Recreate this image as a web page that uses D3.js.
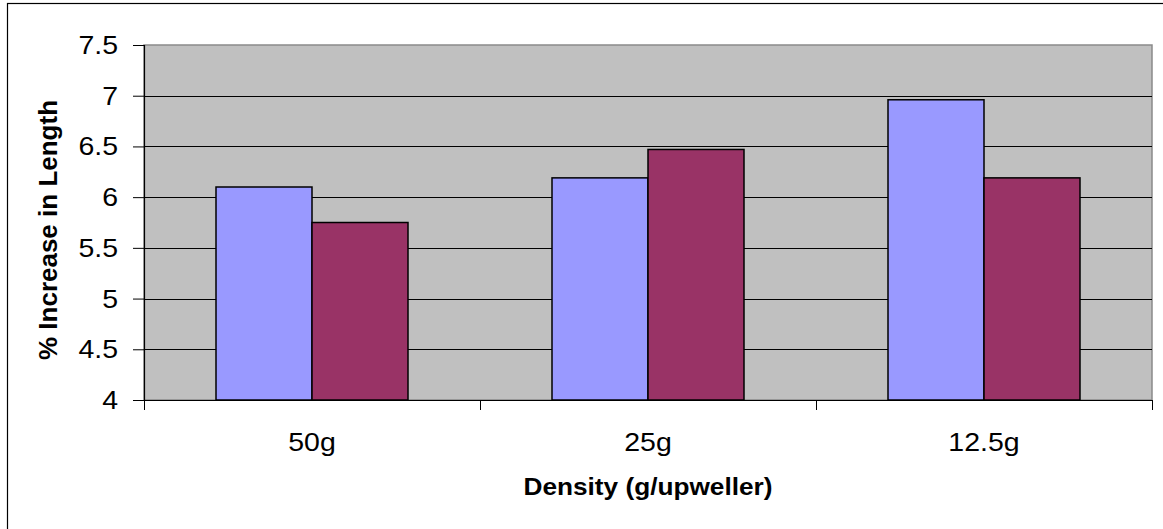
<!DOCTYPE html>
<html><head><meta charset="utf-8">
<script src="https://cdn.jsdelivr.net/npm/d3@7"></script>
<style>
html,body{margin:0;padding:0;background:#fff;}
svg{display:block;font-family:"Liberation Sans",Arial,sans-serif;}
</style></head>
<body>
<svg id="c" width="1163" height="529"></svg>
<script>
const categories = ["50g", "25g", "12.5g"];
const seriesNames = ["Series A", "Series B"];
const seriesA = [6.10, 6.19, 6.96];
const seriesB = [5.75, 6.47, 6.19];
const yTicks = [4, 4.5, 5, 5.5, 6, 6.5, 7, 7.5];
const colors = ["#9999FF", "#993366"];

const svg = d3.select("#c");
const W = 1163, H = 529;
const plot = {left: 144, right: 1152, top: 45, bottom: 400};
const SX = 1.14;

// outer chart border
svg.append("rect").attr("x", 7.5).attr("y", 3.5).attr("width", W + 10).attr("height", H + 10)
  .attr("fill", "#fff").attr("stroke", "#000").attr("stroke-width", 1.2);

const x0 = d3.scaleBand().domain(categories).range([plot.left, plot.right])
  .paddingInner(144/336).paddingOuter(72/336);
const x1 = d3.scaleBand().domain(seriesNames).range([0, x0.bandwidth()]);
const y = d3.scaleLinear().domain([4, 7.5]).range([plot.bottom, plot.top]);

// plot background
svg.append("rect").attr("x", plot.left).attr("y", plot.top)
  .attr("width", plot.right - plot.left).attr("height", plot.bottom - plot.top)
  .attr("fill", "#C0C0C0").attr("stroke", "#8a8a8a").attr("stroke-width", 1.5);

// gridlines
svg.append("g").selectAll("line").data(yTicks.filter(v => v > 4 && v < 7.5)).join("line")
  .attr("x1", plot.left).attr("x2", plot.right)
  .attr("y1", d => Math.round(y(d)) + 0.5).attr("y2", d => Math.round(y(d)) + 0.5)
  .attr("stroke", "#000").attr("stroke-width", 1);

// bars
const data = categories.map((c, i) => ({c, vals: [seriesA[i], seriesB[i]]}));
const g = svg.append("g").selectAll("g").data(data).join("g")
  .attr("transform", d => `translate(${x0(d.c)},0)`);
g.selectAll("rect").data(d => d.vals.map((v, j) => ({v, s: seriesNames[j], j}))).join("rect")
  .attr("x", d => x1(d.s)).attr("width", x1.bandwidth())
  .attr("y", d => y(d.v)).attr("height", d => y(4) - y(d.v))
  .attr("fill", d => colors[d.j]).attr("stroke", "#000").attr("stroke-width", 1.5);

// y axis
const yAxis = d3.axisLeft(y).tickValues(yTicks).tickSize(11).tickPadding(15)
  .tickFormat(d3.format("~g"));
const ya = svg.append("g").attr("transform", `translate(${plot.left},0)`).call(yAxis);
ya.select(".domain").attr("stroke", "#000").attr("stroke-width", 1.2);
ya.selectAll(".tick line").attr("stroke", "#000");
ya.selectAll(".tick text").attr("font-size", 25).attr("fill", "#000")
  .attr("font-family", "Liberation Sans, Arial, sans-serif")
  .attr("transform", `scale(${SX},1)`).attr("x", -26/SX).attr("dy", "0.34em");

// x axis
const xAxis = d3.axisBottom(x0).tickSize(0).tickPadding(0);
const xa = svg.append("g").attr("transform", `translate(0,${plot.bottom})`).call(xAxis);
xa.select(".domain").attr("stroke", "#000").attr("stroke-width", 1.2);
xa.selectAll(".tick text").remove();
// category boundary ticks
const bounds = categories.map(c => x0(c) - (x0.step() - x0.bandwidth())/2).concat([plot.right]);
xa.selectAll("line.bt").data(bounds).join("line").attr("class", "bt")
  .attr("x1", d => Math.round(d) + 0.5).attr("x2", d => Math.round(d) + 0.5)
  .attr("y1", 0).attr("y2", 10).attr("stroke", "#000");
// category labels
svg.append("g").selectAll("text").data(categories).join("text")
  .attr("transform", d => `translate(${x0(d) + x0.bandwidth()/2},451) scale(${SX},1)`)
  .attr("text-anchor", "middle").attr("font-size", 25).attr("fill", "#000").text(d => d);

// axis titles
svg.append("text").attr("transform", `translate(${(plot.left+plot.right)/2},495) scale(${SX},1)`)
  .attr("text-anchor", "middle").attr("font-size", 23).attr("font-weight", "bold")
  .attr("fill", "#000").text("Density (g/upweller)");
svg.append("text").attr("transform", `translate(57,230) rotate(-90)`)
  .attr("text-anchor", "middle").attr("font-size", 26).attr("font-weight", "bold")
  .attr("fill", "#000").text("% Increase in Length");
</script>
</body></html>
